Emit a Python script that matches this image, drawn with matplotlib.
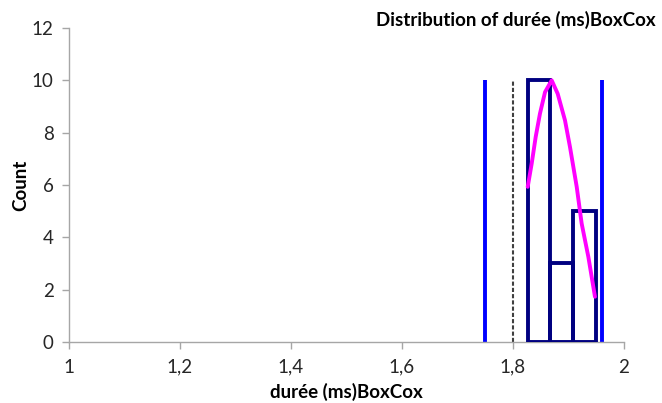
import matplotlib.pyplot as plt
import numpy as np

plt.rcParams['font.family'] = ['Lato', 'DejaVu Sans']

# histogram bins (left edges) and counts
bin_left = [1.8265, 1.8672, 1.9079]
bin_width = 0.0408
counts = [10, 3, 5]

# fitted density curve (scaled to counts)
curve_x = [1.8265, 1.8337, 1.8409, 1.8486, 1.8577, 1.8697, 1.8805, 1.8937,
           1.9027, 1.9148, 1.9237, 1.9357, 1.9477]
curve_y = [5.93, 6.82, 7.84, 8.73, 9.55, 10.0, 9.49, 8.47,
           7.45, 5.93, 4.53, 3.26, 1.73]

# reference lines
blue_lines = [1.7495, 1.9598]
dashed_line = 1.8006
line_height = 10

fig = plt.figure(figsize=(6.62, 4.03), dpi=100)
ax = fig.add_axes([0.1042, 0.1514, 0.8384, 0.7791])

ax.bar(bin_left, counts, width=bin_width, align='edge', fill=False,
       edgecolor='#000080', linewidth=2.8, zorder=3)
ax.plot(curve_x, curve_y, color='#FF00FF', linewidth=2.8, zorder=4,
        solid_joinstyle='round', solid_capstyle='round')
ax.vlines(blue_lines, 0, line_height, color='#0000FF', linewidth=2.8, zorder=2)
ax.vlines(dashed_line, 0, line_height, color='#404040', linewidth=1.5,
          linestyles=(0, (2, 1)), zorder=2)

ax.set_xlim(1, 2)
ax.set_ylim(0, 12)
ax.set_xticks([1, 1.2, 1.4, 1.6, 1.8, 2])
ax.set_xticklabels(['1', '1,2', '1,4', '1,6', '1,8', '2'])
ax.set_yticks(range(0, 13, 2))

for s in ['top', 'right']:
    ax.spines[s].set_visible(False)
for s in ['left', 'bottom']:
    ax.spines[s].set_color('#A6A6A6')
    ax.spines[s].set_linewidth(1)
ax.tick_params(axis='both', colors='#A6A6A6', labelcolor='#262626', labelsize=13.5,
               length=5, width=1)
ax.tick_params(axis='x', pad=7)
ax.tick_params(axis='y', pad=6)

ax.set_xlabel('durée (ms)BoxCox', fontsize=13.5, fontweight='bold', labelpad=5)
ax.set_ylabel('Count', fontsize=13.5, fontweight='bold', labelpad=2)
fig.text(0.99, 0.95, 'Distribution of durée (ms)BoxCox', ha='right', va='center',
         fontsize=13.5, fontweight='bold')

fig.savefig('out.png', dpi=100)
